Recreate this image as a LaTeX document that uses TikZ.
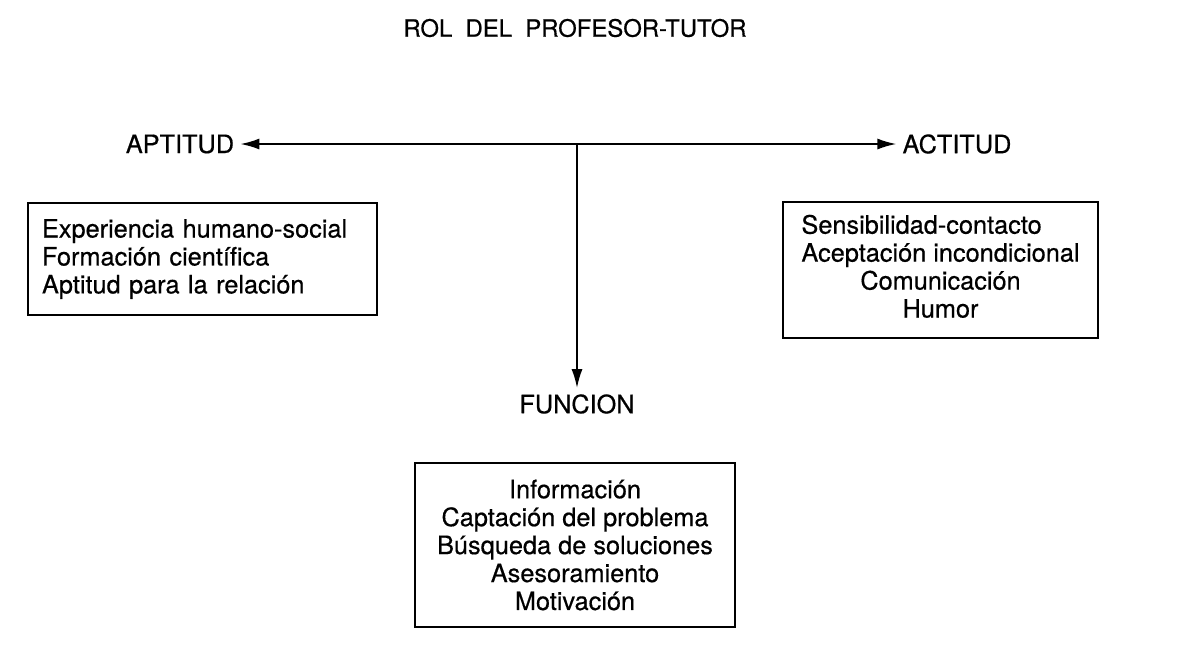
\documentclass[tikz,border=0pt]{standalone}
\usepackage{fontspec}
\setmainfont{TeX Gyre Heros}[FakeBold=0.5]
\usetikzlibrary{arrows.meta}
\begin{document}
\begin{tikzpicture}[x=0.2mm,y=-0.2mm,
		rotulo/.style={font=\fontsize{14.4}{15.9}\selectfont},
		caja/.style={draw,line width=1.3pt,inner sep=0pt,font=\fontsize{14.4}{15.9}\selectfont},
		flecha/.style={line width=1.1pt,-{Latex[length=3.8mm,width=2.2mm]}}]
	\useasboundingbox (0,0) rectangle (1190,654);
	\node [rotulo,font=\fontsize{13.6}{15}\selectfont] (titulo) at (575,28) {ROL\ \ DEL\ \ PROFESOR-TUTOR};
	\node [rotulo] (aptitud) at (180,144) {APTITUD};
	\node [rotulo] (actitud) at (957,144) {ACTITUD};
	\node [rotulo] (funcion) at (577,404) {FUNCION};
	\coordinate (cruce) at (577,144);
	\draw [flecha] (cruce)--(aptitud);
	\draw [flecha] (cruce)--(actitud);
	\draw [flecha] (cruce)--(funcion);
	\node [caja,minimum width=69.8mm,minimum height=22.4mm,text width=64.2mm,align=left] (cajaaptitud) at (202.5,259)
		{Experiencia humano-social\\Formación científica\\Aptitud para la relación};
	\node [caja,minimum width=63mm,minimum height=27.2mm] (cajaactitud) at (940.5,270)
		{\begin{tabular}{@{}l@{}}Sensibilidad-contacto\\Aceptación incondicional\\\multicolumn{1}{@{}c@{}}{Comunicación}\\\multicolumn{1}{@{}c@{}}{Humor}\end{tabular}};
	\node [caja,minimum width=64mm,minimum height=32.8mm,align=center] (cajafuncion) at (575,545)
		{Información\\Captación del problema\\Búsqueda de soluciones\\Asesoramiento\\Motivación};
\end{tikzpicture}
\end{document}
